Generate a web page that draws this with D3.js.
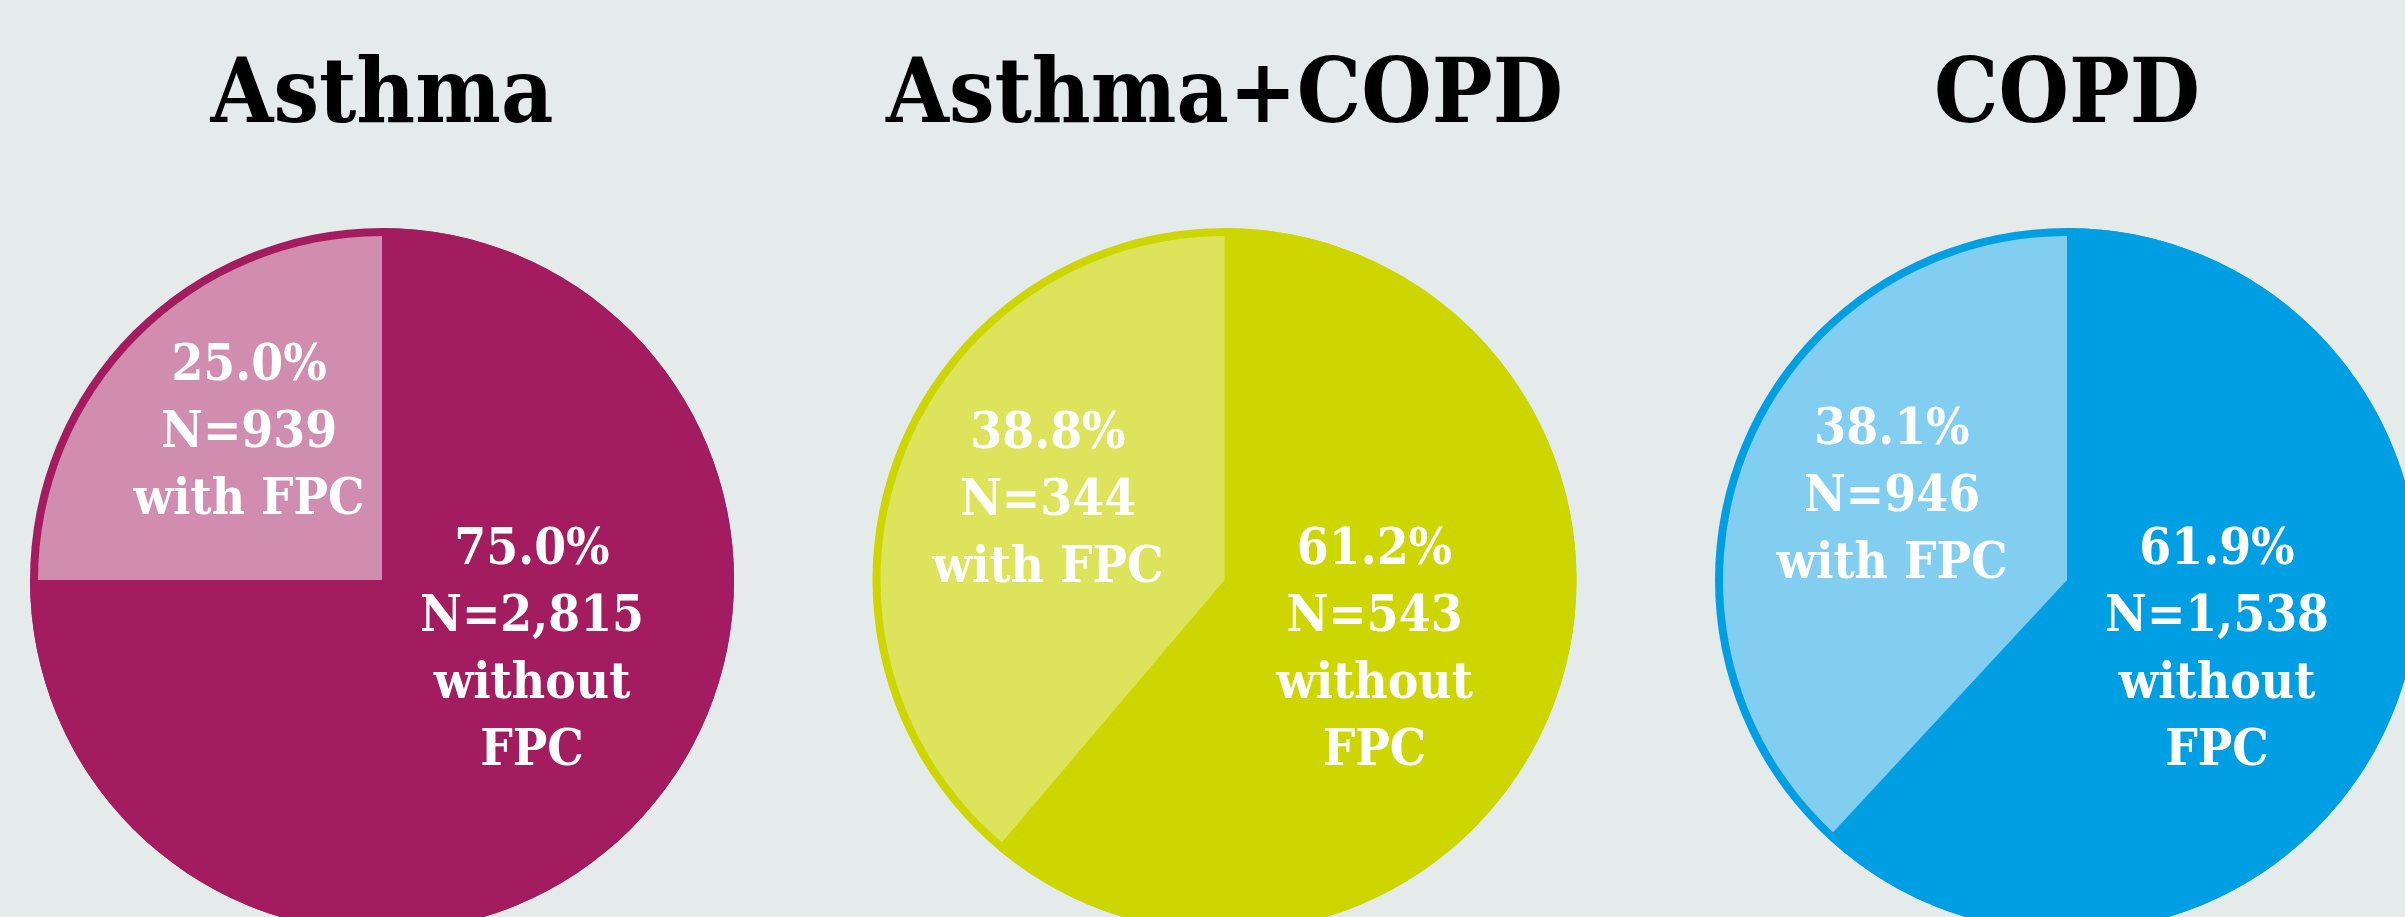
<!DOCTYPE html>
<html>
<head>
<meta charset="utf-8">
<script src="https://cdn.jsdelivr.net/npm/d3@7"></script>
<style>
  html, body { margin: 0; padding: 0; background: #e5ebea; }
  svg { display: block; }
  text { font-family: "DejaVu Serif", serif; font-weight: bold; font-stretch: condensed; }
</style>
</head>
<body>
<svg id="chart" width="2405" height="917"></svg>
<script>
// ---- data ----
const categories = ["Asthma", "Asthma+COPD", "COPD"];
const withPct = [25.0, 38.8, 38.1];
const withoutPct = [75.0, 61.2, 61.9];
const withN = [939, 344, 946];
const withoutN = [2815, 543, 1538];
const darkColors = ["#a31c5f", "#cdd600", "#009fe3"];
const lightColors = ["#d08db0", "#dde45c", "#82cef0"];

// ---- layout ----
const W = 2405, H = 917;
const svg = d3.select("#chart");
svg.append("rect").attr("width", W).attr("height", H).attr("fill", "#e5ebea");

const R = 352;
const x = d3.scalePoint().domain(categories).range([382, 2067]);
const cy = 580;
const fmtN = d3.format(",");
const fmtP = d3.format(".1f");

const pie = d3.pie().sort(null).value(d => d.pct);
const arcFull = d3.arc().innerRadius(0).outerRadius(R);
const arcLight = d3.arc().innerRadius(0).outerRadius(R - 8);

categories.forEach((cat, i) => {
  const cx = x(cat);
  // title
  svg.append("text")
    .attr("x", cx).attr("y", 122)
    .attr("text-anchor", "middle")
    .attr("font-size", 90)
    .attr("fill", "#000")
    .text(cat);

  const g = svg.append("g").attr("transform", `translate(${cx},${cy})`);
  const slices = pie([
    { key: "without", pct: withoutPct[i], n: withoutN[i] },
    { key: "with", pct: withPct[i], n: withN[i] }
  ]);
  // dark base circle (gives the rim around the light slice)
  g.append("circle").attr("r", R).attr("fill", darkColors[i]);
  g.selectAll("path.slice").data(slices).enter().append("path")
    .attr("class", "slice")
    .attr("d", d => d.data.key === "with" ? arcLight(d) : arcFull(d))
    .attr("fill", d => d.data.key === "with" ? lightColors[i] : darkColors[i]);

  const lh = 67, fs = 51;
  // label for "with" slice: placed along slice mid-angle
  const sw = slices[1];
  const mid = (sw.startAngle + sw.endAngle) / 2;
  const lr = 188;
  const lx = Math.sin(mid) * lr, ly = -Math.cos(mid) * lr;
  const linesWith = [fmtP(sw.data.pct) + "%", "N=" + fmtN(sw.data.n), "with FPC"];
  const t1 = g.append("text").attr("text-anchor", "middle").attr("font-size", fs).attr("fill", "#fff");
  linesWith.forEach((s, k) => {
    t1.append("tspan").attr("x", lx).attr("y", ly + (k - 1) * lh).text(s);
  });
  // label for "without" slice
  const so = slices[0];
  const linesWithout = [fmtP(so.data.pct) + "%", "N=" + fmtN(so.data.n), "without", "FPC"];
  const t2 = g.append("text").attr("text-anchor", "middle").attr("font-size", fs).attr("fill", "#fff");
  linesWithout.forEach((s, k) => {
    t2.append("tspan").attr("x", 150).attr("y", -16 + k * lh).text(s);
  });
});
</script>
</body>
</html>
